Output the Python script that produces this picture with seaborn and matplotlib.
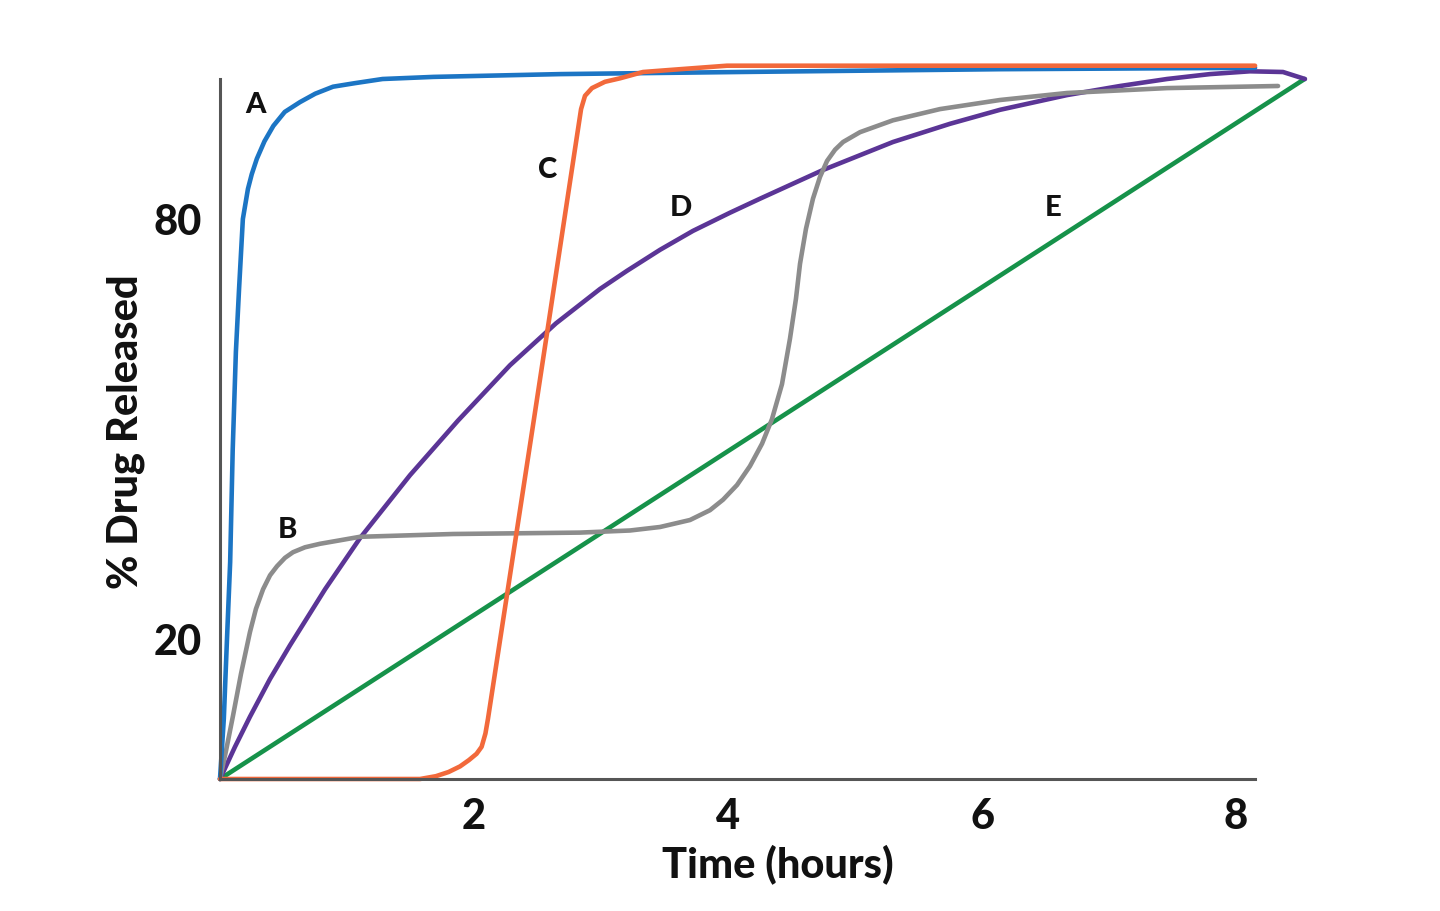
import matplotlib
matplotlib.use("Agg")
import matplotlib.pyplot as plt
import seaborn as sns
import pandas as pd

# ---- data ----
a_x = [0, 0.03, 0.055, 0.08, 0.10, 0.125, 0.15, 0.18, 0.22, 0.25, 0.29, 0.35, 0.42, 0.51,
       0.63, 0.75, 0.89, 1.06, 1.28, 1.68, 2.68, 4.09, 6.14, 8.15]
a_y = [0, 8.6, 20, 31, 47, 61, 70, 80, 84.3, 86.4, 88.6, 91.1, 93.3, 95.3,
       96.7, 97.9, 98.9, 99.4, 100, 100.3, 100.7, 101.0, 101.4, 101.6]

b_x = [0, 0.047, 0.102, 0.165, 0.236, 0.283, 0.339, 0.394, 0.449, 0.512, 0.575, 0.669, 0.787,
       0.945, 1.102, 1.835, 2.835, 3.228, 3.465, 3.701, 3.858, 3.961, 4.071, 4.173, 4.268,
       4.346, 4.425, 4.488, 4.535, 4.567, 4.614, 4.669, 4.724, 4.780, 4.843, 4.906, 5.039,
       5.299, 5.669, 6.142, 6.669, 7.457, 8.331]
b_y = [0, 4.0, 9.0, 15.0, 21.0, 24.3, 27.1, 29.1, 30.4, 31.6, 32.4, 33.1, 33.6,
       34.1, 34.6, 35.0, 35.2, 35.5, 36.0, 37.0, 38.4, 39.9, 42.0, 44.7, 47.9,
       51.4, 56.4, 62.9, 68.6, 73.6, 78.6, 82.9, 86.0, 88.3, 89.9, 91.0, 92.4,
       94.1, 95.7, 97.0, 98.0, 98.7, 99.0]

c_x = [0, 1.575, 1.70, 1.80, 1.89, 1.96, 2.02, 2.06, 2.09, 2.11, 2.472, 2.843, 2.874, 2.929,
       3.031, 3.150, 3.331, 3.622, 3.992, 8.150]
c_y = [0, 0, 0.4, 1.0, 1.8, 2.7, 3.6, 4.6, 6.5, 8.6, 51.4, 95.7, 97.6, 98.7,
       99.6, 100.1, 101.0, 101.4, 101.9, 101.9]

d_x = [0, 0.118, 0.236, 0.394, 0.551, 0.827, 1.102, 1.496, 1.874, 2.283, 2.646, 2.992, 3.205,
       3.465, 3.724, 4.016, 4.252, 4.748, 5.299, 5.748, 6.142, 6.669, 7.087, 7.457, 7.795,
       8.110, 8.370, 8.543]
d_y = [0, 4.6, 8.9, 14.3, 19.1, 27.1, 34.4, 43.4, 51.2, 59.1, 65.1, 70.0, 72.6,
       75.6, 78.3, 80.9, 82.9, 87.0, 91.0, 93.6, 95.6, 97.7, 99.0, 100.0, 100.7,
       101.1, 101.0, 100.0]

e_x = [0, 8.54]
e_y = [0, 100]

curve_labels = ["A", "B", "C", "D", "E"]
label_x = [0.276, 0.528, 2.583, 3.63, 6.56]
label_y = [96.4, 35.7, 87.1, 81.7, 81.7]

x_ticks = [2, 4, 6, 8]
y_ticks = [20, 80]

colors = {"A": "#1c75c4", "B": "#8c8c8c", "C": "#f2693b", "D": "#5b3596", "E": "#16924a"}

sns.set_theme(style="white")
plt.rcParams["font.family"] = ["Lato", "DejaVu Sans"]

fig = plt.figure(figsize=(14.4, 9.12), dpi=100)
ax = fig.add_axes([0.15278, 0.14474, 0.75847, 0.78673])

series = [("E", e_x, e_y), ("D", d_x, d_y), ("B", b_x, b_y), ("A", a_x, a_y), ("C", c_x, c_y)]
for name, xs, ys in series:
    df = pd.DataFrame({"t": xs, "r": ys})
    sns.lineplot(data=df, x="t", y="r", ax=ax, color=colors[name], lw=3.3,
                 estimator=None, sort=False, clip_on=False,
                 solid_capstyle="round", solid_joinstyle="round")

for lab, lx, ly in zip(curve_labels, label_x, label_y):
    ax.text(lx, ly, lab, fontsize=21, fontweight="black", ha="center", va="center", color="#111111")

ax.set_xlim(0, 8.6)
ax.set_ylim(0, 102.5)
ax.set_xticks(x_ticks)
ax.set_yticks(y_ticks)
ax.set_xticklabels([str(v) for v in x_ticks])
ax.set_yticklabels([str(v) for v in y_ticks])

for s in ["top", "right"]:
    ax.spines[s].set_visible(False)
for s in ["left", "bottom"]:
    ax.spines[s].set_color("#555555")
    ax.spines[s].set_linewidth(2.2)
ax.spines["left"].set_bounds(0, 100)
ax.spines["bottom"].set_bounds(0, 8.15)

ax.tick_params(axis="both", direction="in", length=14, width=2, color="#444444",
               labelsize=30, pad=13, labelcolor="#111111")
for lbl in ax.get_xticklabels() + ax.get_yticklabels():
    lbl.set_fontweight("black")

ax.set_xlabel("Time (hours)", fontsize=30, fontweight="black", color="#111111")
ax.set_ylabel("% Drug Released", fontsize=30, fontweight="black", color="#111111")
ax.xaxis.set_label_coords(0.511, -0.090)
ax.yaxis.set_label_coords(-0.069, 0.485)
ax.grid(False)

fig.savefig("out.png", dpi=100, facecolor="white")
